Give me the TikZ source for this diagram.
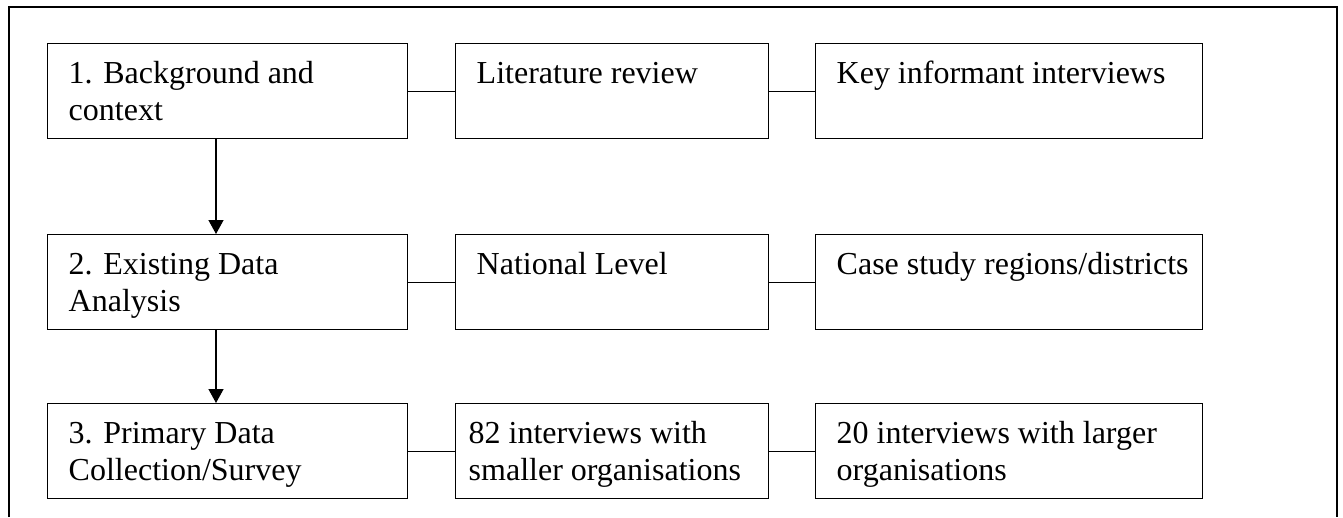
\documentclass[tikz,border=0pt]{standalone}
\usepackage{fontspec}
\setmainfont{Liberation Serif}
\usetikzlibrary{arrows.meta}

% text block inside a box: left padding, text width, lines (top aligned)
\newcommand\boxtext[3]{\hspace*{#1pt}\parbox[c][95pt][t]{#2pt}{\raggedright\rule{0pt}{40pt}#3}}

\tikzset{
  stepbox/.style={draw=black, line width=1.4pt, inner sep=0pt, anchor=north west, fill=white},
  link/.style={draw=black, line width=1.4pt},
  flow/.style={draw=black, line width=1.4pt, -{Triangle[width=15pt,length=14pt]}},
  frame/.style={draw=black, line width=2.4pt}
}

\begin{document}
\begin{tikzpicture}[x=1pt, y=-1pt, font=\fontsize{32pt}{36.8pt}\selectfont]
  \useasboundingbox[fill=white] (0,0) rectangle (1343,517);

  % outer frame (open at the bottom edge)
  \draw[frame] (9,517) -- (9,7) -- (1337,7) -- (1337,517);

  % row 1
  \node[stepbox] (a1) at (47,43)  {\boxtext{21}{339}{1. Background and\\context}};
  \node[stepbox] (b1) at (455,43) {\boxtext{21}{292}{Literature review}};
  \node[stepbox] (c1) at (815,43) {\boxtext{21}{366}{Key informant interviews}};

  % row 2
  \node[stepbox] (a2) at (47,234)  {\boxtext{21}{339}{2. Existing Data\\Analysis}};
  \node[stepbox] (b2) at (455,234) {\boxtext{21}{292}{National Level}};
  \node[stepbox] (c2) at (815,234) {\boxtext{21}{366}{Case study regions/districts}};

  % row 3
  \node[stepbox] (a3) at (47,403)  {\boxtext{21}{339}{3. Primary Data\\Collection/Survey}};
  \node[stepbox] (b3) at (455,403) {\boxtext{13}{300}{82 interviews with\\smaller organisations}};
  \node[stepbox] (c3) at (815,403) {\boxtext{21}{366}{20 interviews with larger\\organisations}};

  % horizontal links
  \draw[link] (a1.east) -- (b1.west);
  \draw[link] (b1.east) -- (c1.west);
  \draw[link] (a2.east) -- (b2.west);
  \draw[link] (b2.east) -- (c2.west);
  \draw[link] (a3.east) -- (b3.west);
  \draw[link] (b3.east) -- (c3.west);

  % vertical flow between stages
  \coordinate (ax) at (216,0);
  \draw[flow] (a1.south -| ax) -- (a2.north -| ax);
  \draw[flow] (a2.south -| ax) -- (a3.north -| ax);
\end{tikzpicture}
\end{document}
